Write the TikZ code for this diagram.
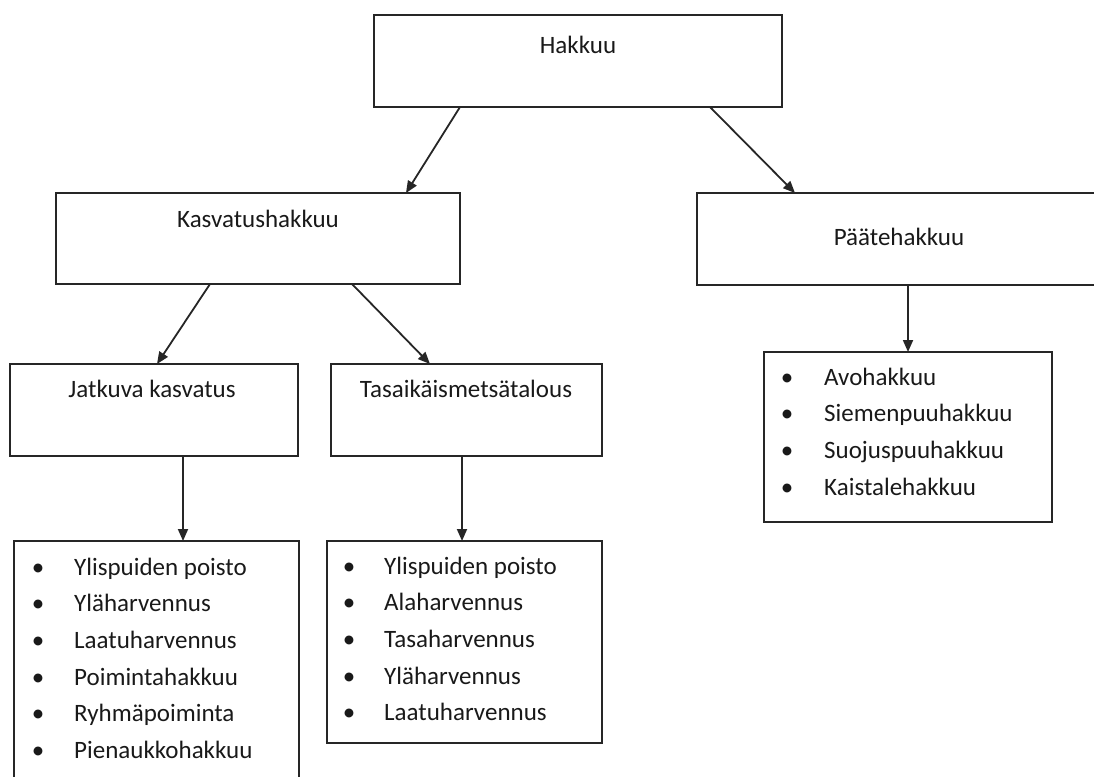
\documentclass[tikz,border=0pt]{standalone}
\usepackage{fontspec}
\setmainfont{Carlito}
\usetikzlibrary{arrows.meta, calc}

\begin{document}
\begin{tikzpicture}[x=1pt, y=-1pt,
    box/.style={draw=black!85, line width=1.9pt, inner sep=0pt, outer sep=0pt},
    txt/.style={anchor=base, inner sep=0pt, font=\fontsize{25}{30}\selectfont, text=black!90},
    item/.style={txt, anchor=base west},
    arr/.style={draw=black!85, line width=1.8pt, -{Triangle[length=12pt, width=10pt]}}]
    \useasboundingbox (0,0) rectangle (1094,776);
    \clip (0,0) rectangle (1094,776);

    \node[box, minimum width=408, minimum height=92] (hakkuu) at (578, 61) {};
    \node[box, minimum width=404, minimum height=91] (kasv)   at (258, 238.5) {};
    \node[box, minimum width=404, minimum height=92] (paate)  at (899, 239) {};
    \node[box, minimum width=288, minimum height=92] (jatk)   at (154, 410) {};
    \node[box, minimum width=271, minimum height=92] (tasa)   at (466.5, 410) {};

    \node[box, minimum width=285, minimum height=250] (llist) at (156.5, 666) {};
    \node[box, minimum width=275, minimum height=202] (mlist) at (464.5, 642) {};
    \node[box, minimum width=288, minimum height=170] (rlist) at (908, 437) {};

    \node[txt] (hakkuu-t) at (578, 53)  {Hakkuu};
    \node[txt] (kasv-t)   at (258, 227) {Kasvatushakkuu};
    \node[txt] (paate-t)  at (899, 245) {Päätehakkuu};
    \node[txt] (jatk-t)   at (152, 397) {Jatkuva kasvatus};
    \node[txt] (tasa-t)   at (466, 397) {Tasaikäismetsätalous};

    \foreach \t [count=\i from 0] in {Ylispuiden poisto, Yläharvennus, Laatuharvennus,
            Poimintahakkuu, Ryhmäpoiminta, Pienaukkohakkuu} {
        \node[txt] (lb\i) at (38, {575+36.7*\i}) {\textbullet};
        \node[item] (l\i) at (74, {575+36.7*\i}) {\t};
    }

    \foreach \t [count=\i from 0] in {Ylispuiden poisto, Alaharvennus, Tasaharvennus,
            Yläharvennus, Laatuharvennus} {
        \node[txt] (mb\i) at (349, {574+36.7*\i}) {\textbullet};
        \node[item] (m\i) at (384, {574+36.7*\i}) {\t};
    }

    \foreach \t [count=\i from 0] in {Avohakkuu, Siemenpuuhakkuu, Suojuspuuhakkuu,
            Kaistalehakkuu} {
        \node[txt] (rb\i) at (787, {385+36.7*\i}) {\textbullet};
        \node[item] (r\i) at (824, {385+36.7*\i}) {\t};
    }

    \draw[arr] ($(hakkuu.south)+(-118,0)$) -- ($(kasv.north)+(148,0)$);
    \draw[arr] ($(hakkuu.south)+(132,0)$)  -- ($(paate.north)+(-104,0)$);
    \draw[arr] ($(kasv.south)+(-48,0)$)    -- ($(jatk.north)+(3,0)$);
    \draw[arr] ($(kasv.south)+(94,0)$)     -- ($(tasa.north)+(-36.5,0)$);
    \draw[arr] (rlist.north |- paate.south) -- (rlist.north);
    \draw[arr] ($(jatk.south)+(29,0)$)     -- ($(llist.north)+(26.5,0)$);
    \draw[arr] ($(tasa.south)+(-4.5,0)$)   -- ($(mlist.north)+(-2.5,0)$);
\end{tikzpicture}
\end{document}
